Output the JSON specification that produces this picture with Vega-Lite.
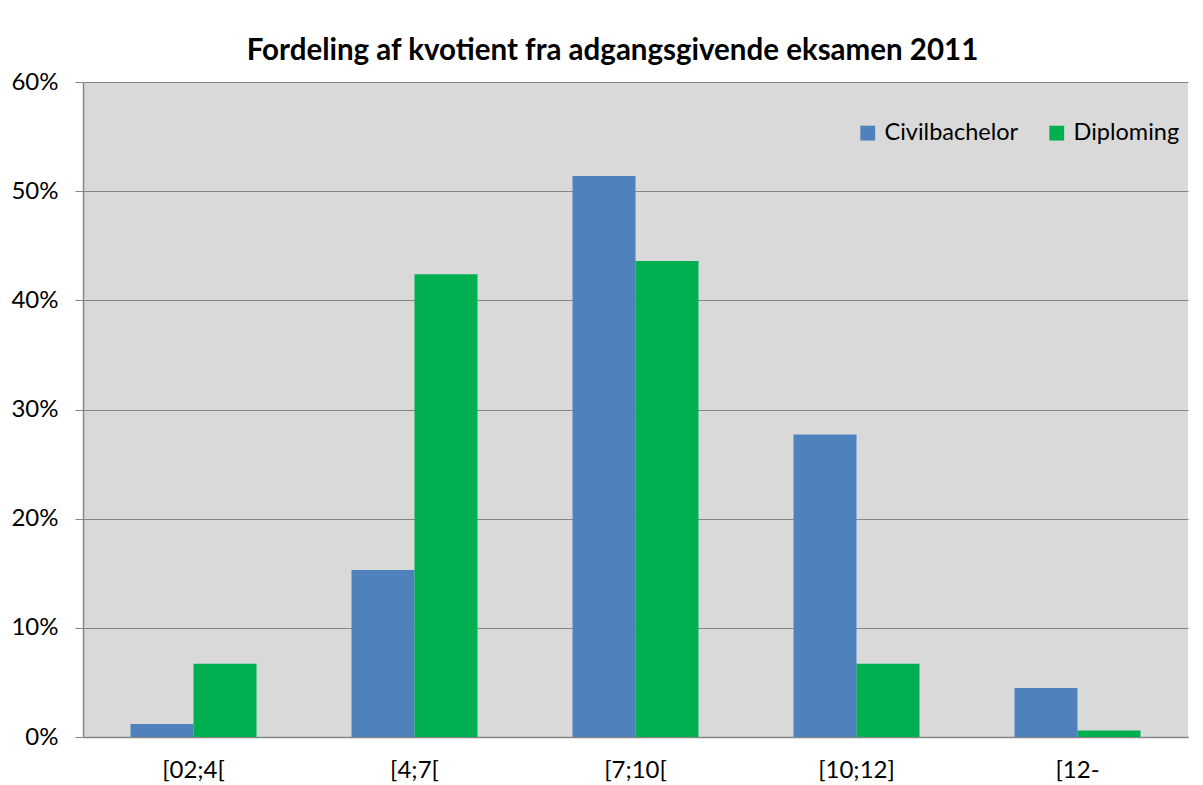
{
  "$schema": "https://vega.github.io/schema/vega-lite/v6.json",
  "autosize": "none",
  "width": 1105,
  "height": 655,
  "padding": {"left": 83, "top": 82, "right": 15, "bottom": 48},
  "background": "white",
  "title": {
    "text": "Fordeling af kvotient fra adgangsgivende eksamen 2011",
    "fontSize": 29.5,
    "font": "Lato",
    "fontWeight": "bold",
    "color": "black",
    "anchor": "middle",
    "dx": -23,
    "offset": 4
  },
  "data": {
    "values": [
      {"kategori": "[02;4[", "gruppe": "Civilbachelor", "andel": 0.012},
      {"kategori": "[02;4[", "gruppe": "Diploming", "andel": 0.067},
      {"kategori": "[4;7[", "gruppe": "Civilbachelor", "andel": 0.153},
      {"kategori": "[4;7[", "gruppe": "Diploming", "andel": 0.424},
      {"kategori": "[7;10[", "gruppe": "Civilbachelor", "andel": 0.514},
      {"kategori": "[7;10[", "gruppe": "Diploming", "andel": 0.436},
      {"kategori": "[10;12]", "gruppe": "Civilbachelor", "andel": 0.277},
      {"kategori": "[10;12]", "gruppe": "Diploming", "andel": 0.067},
      {"kategori": "[12-", "gruppe": "Civilbachelor", "andel": 0.045},
      {"kategori": "[12-", "gruppe": "Diploming", "andel": 0.006}
    ]
  },
  "mark": {"type": "bar"},
  "encoding": {
    "x": {
      "field": "kategori",
      "type": "nominal",
      "sort": ["[02;4[", "[4;7[", "[7;10[", "[10;12]", "[12-"],
      "scale": {"paddingInner": 0.43, "paddingOuter": 0.215},
      "axis": {
        "title": null,
        "labelAngle": 0,
        "ticks": false,
        "labelPadding": 21,
        "labelFontSize": 24,
        "labelFont": "Lato",
        "labelColor": "black",
        "domainColor": "#868686",
        "domainWidth": 1.5
      }
    },
    "xOffset": {
      "field": "gruppe",
      "type": "nominal",
      "sort": ["Civilbachelor", "Diploming"],
      "scale": {"paddingInner": 0, "paddingOuter": 0}
    },
    "y": {
      "field": "andel",
      "type": "quantitative",
      "scale": {"domain": [0, 0.6], "nice": false},
      "axis": {
        "title": null,
        "format": ".0%",
        "values": [0, 0.1, 0.2, 0.3, 0.4, 0.5, 0.6],
        "tickSize": 8,
        "tickColor": "#868686",
        "labelPadding": 17,
        "labelFontSize": 24,
        "labelFont": "Lato",
        "labelColor": "black",
        "domainColor": "#868686",
        "domainWidth": 1.5,
        "grid": true,
        "gridColor": "#868686",
        "gridWidth": 1
      }
    },
    "color": {
      "field": "gruppe",
      "type": "nominal",
      "sort": ["Civilbachelor", "Diploming"],
      "scale": {"domain": ["Civilbachelor", "Diploming"], "range": ["#4F81BD", "#00B050"]},
      "legend": {
        "title": null,
        "orient": "none",
        "direction": "horizontal",
        "legendX": 773,
        "legendY": 39,
        "symbolType": "square",
        "symbolSize": 220,
        "symbolStrokeWidth": 0,
        "symbolOpacity": 1,
        "labelFontSize": 23.5,
        "labelFont": "Lato",
        "labelColor": "black",
        "labelOffset": 5,
        "columnPadding": 26
      }
    }
  },
  "config": {
    "view": {"fill": "#D9D9D9", "stroke": null},
    "axis": {"gridColor": "#868686"}
  }
}
